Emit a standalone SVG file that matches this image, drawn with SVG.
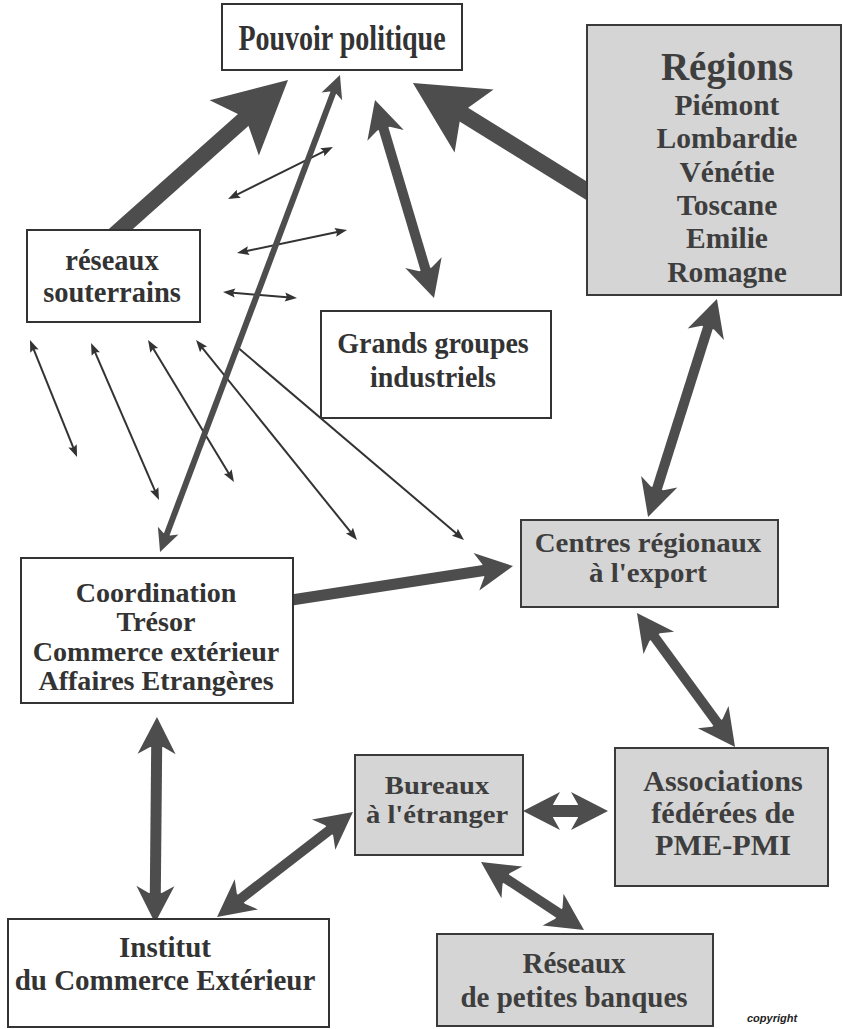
<svg xmlns="http://www.w3.org/2000/svg" width="843" height="1029" viewBox="0 0 843 1029">
<defs>
<style>
.box{fill:#fff;stroke:#333;stroke-width:2}
.gbox{fill:#d5d5d5;stroke:#3a3a3a;stroke-width:2}
.t{font-family:"Liberation Serif","Times New Roman",serif;font-weight:bold;font-size:28px;fill:#333;text-anchor:middle}
.g{fill:#3e3e3e}
.thick line{stroke:#4d4d4d;fill:none}
.thin line{stroke:#333;stroke-width:2;fill:none}
.both{marker-start:url(#tiny);marker-end:url(#tiny)}
.cp{font-family:"Liberation Sans",Arial,sans-serif;font-weight:bold;font-style:italic;font-size:11px;fill:#222}
</style>
<marker id="big" markerUnits="userSpaceOnUse" orient="auto-start-reverse" refX="0" refY="0" markerWidth="1" markerHeight="1" overflow="visible"><path d="M58,0 L-14,-37 L-2,-8 L-2,8 L-14,37 Z" fill="#4d4d4d"/></marker>
<marker id="med" markerUnits="userSpaceOnUse" orient="auto-start-reverse" refX="0" refY="0" markerWidth="1" markerHeight="1" overflow="visible"><path d="M28,0 L-9,-19 L-2,-6.5 L-2,6.5 L-9,19 Z" fill="#4d4d4d"/></marker>
<marker id="sm" markerUnits="userSpaceOnUse" orient="auto-start-reverse" refX="0" refY="0" markerWidth="1" markerHeight="1" overflow="visible"><path d="M18,0 L-5,-11 L-1,-3.5 L-1,3.5 L-5,11 Z" fill="#4d4d4d"/></marker>
<marker id="tiny" markerUnits="userSpaceOnUse" orient="auto-start-reverse" refX="0" refY="0" markerWidth="1" markerHeight="1" overflow="visible"><path d="M10,0 L-2,-4.5 L-0.5,-1.2 L-0.5,1.2 L-2,4.5 Z" fill="#333"/></marker>
</defs>
<rect x="0" y="0" width="843" height="1029" fill="#fff"/>

<g id="connectors">
<g class="thin">
<line class="both" x1="237" y1="194.6" x2="324" y2="151.4"/>
<line class="both" x1="246.8" y1="251" x2="337.2" y2="232"/>
<line class="both" x1="233" y1="292.8" x2="287" y2="297.2"/>
<line class="both" x1="33.7" y1="349.3" x2="73.3" y2="447.7"/>
<line class="both" x1="95" y1="352.2" x2="155" y2="490.8"/>
<line class="both" x1="153.2" y1="348.6" x2="228.8" y2="473.4"/>
<line class="both" x1="202.3" y1="347.8" x2="350.7" y2="532.2"/>
<line x1="236" y1="346" x2="456.4" y2="533.5" marker-end="url(#tiny)"/>
</g>
<g class="thick">
<line x1="113" y1="236" x2="244.7" y2="118.6" stroke-width="16" marker-end="url(#big)"/>
<line x1="595" y1="196" x2="462.2" y2="113.6" stroke-width="16" marker-end="url(#big)"/>
<line x1="166.4" y1="535.2" x2="333.6" y2="91.8" stroke-width="6" marker-start="url(#sm)" marker-end="url(#sm)"/>
<line x1="383" y1="126.8" x2="426" y2="271.2" stroke-width="10" marker-start="url(#med)" marker-end="url(#med)"/>
<line x1="708.5" y1="325.7" x2="656.5" y2="490.3" stroke-width="10" marker-start="url(#med)" marker-end="url(#med)"/>
<line x1="285" y1="601" x2="485.3" y2="570.3" stroke-width="11" marker-end="url(#med)"/>
<line x1="653.5" y1="635.6" x2="718.5" y2="724.4" stroke-width="10" marker-start="url(#med)" marker-end="url(#med)"/>
<line x1="551" y1="811" x2="580" y2="811" stroke-width="12" marker-start="url(#med)" marker-end="url(#med)"/>
<line x1="156.7" y1="745" x2="155.3" y2="895" stroke-width="11" marker-start="url(#med)" marker-end="url(#med)"/>
<line x1="239.2" y1="899.9" x2="330.8" y2="829.1" stroke-width="10" marker-start="url(#med)" marker-end="url(#med)"/>
<line x1="504.4" y1="877.5" x2="560.6" y2="914.5" stroke-width="10" marker-start="url(#med)" marker-end="url(#med)"/>
</g>
</g>

<g id="pouvoir">
<rect class="box" x="222" y="4" width="240" height="66"/>
<text class="t" transform="translate(342,50) scale(1,1.25)">Pouvoir politique</text>
</g>

<g id="regions">
<rect class="gbox" x="587" y="25" width="254" height="270"/>
<text class="t g" x="727" y="80" style="font-size:39px">Régions</text>
<text class="t g" style="font-size:29.5px"><tspan x="727" y="115">Piémont</tspan><tspan x="727" y="148">Lombardie</tspan><tspan x="727" y="182">Vénétie</tspan><tspan x="727" y="215">Toscane</tspan><tspan x="727" y="248">Emilie</tspan><tspan x="727" y="282">Romagne</tspan></text>
</g>

<g id="reseaux">
<rect class="box" x="27" y="230" width="173" height="92"/>
<text class="t" style="font-size:28.5px"><tspan x="112" y="270">réseaux</tspan><tspan x="112" y="302">souterrains</tspan></text>
</g>

<g id="grands">
<rect class="box" x="321" y="311" width="230" height="107"/>
<text class="t" transform="translate(433,353) scale(1,1.08)"><tspan x="0" y="0">Grands groupes</tspan><tspan x="0" y="31.5">industriels</tspan></text>
</g>

<g id="centres">
<rect class="gbox" x="521" y="520" width="257" height="87"/>
<text class="t g" style="font-size:27px" transform="translate(648,551.5) scale(1.07,1)"><tspan x="0" y="0">Centres régionaux</tspan><tspan x="0" y="30.5">à l'export</tspan></text>
</g>

<g id="coordination">
<rect class="box" x="21" y="558" width="272" height="145"/>
<text class="t" style="font-size:26.5px" transform="translate(156,602) scale(1.06,1)"><tspan x="0" y="0">Coordination</tspan><tspan x="0" y="29.5">Trésor</tspan><tspan x="0" y="59">Commerce extérieur</tspan><tspan x="0" y="88.5">Affaires Etrangères</tspan></text>
</g>

<g id="bureaux">
<rect class="gbox" x="355" y="755" width="168" height="100"/>
<text class="t g" style="font-size:26px" transform="translate(437,794) scale(1.1,1)"><tspan x="0" y="0">Bureaux</tspan><tspan x="0" y="29">à l'étranger</tspan></text>
</g>

<g id="associations">
<rect class="gbox" x="615" y="748" width="213" height="138"/>
<text class="t g" style="font-size:28.5px" transform="translate(723,791) scale(1.06,1)"><tspan x="0" y="0">Associations</tspan><tspan x="0" y="32">fédérées de</tspan><tspan x="0" y="64">PME-PMI</tspan></text>
</g>

<g id="institut">
<rect class="box" x="8" y="919" width="321" height="108"/>
<text class="t" style="font-size:29px"><tspan x="165" y="957">Institut</tspan><tspan x="165" y="990">du Commerce Extérieur</tspan></text>
</g>

<g id="banques">
<rect class="gbox" x="437" y="934" width="276" height="92"/>
<text class="t g" style="font-size:29px"><tspan x="574" y="973">Réseaux</tspan><tspan x="574" y="1007">de petites banques</tspan></text>
</g>

<text class="cp" x="747" y="1022">copyright</text>
</svg>
